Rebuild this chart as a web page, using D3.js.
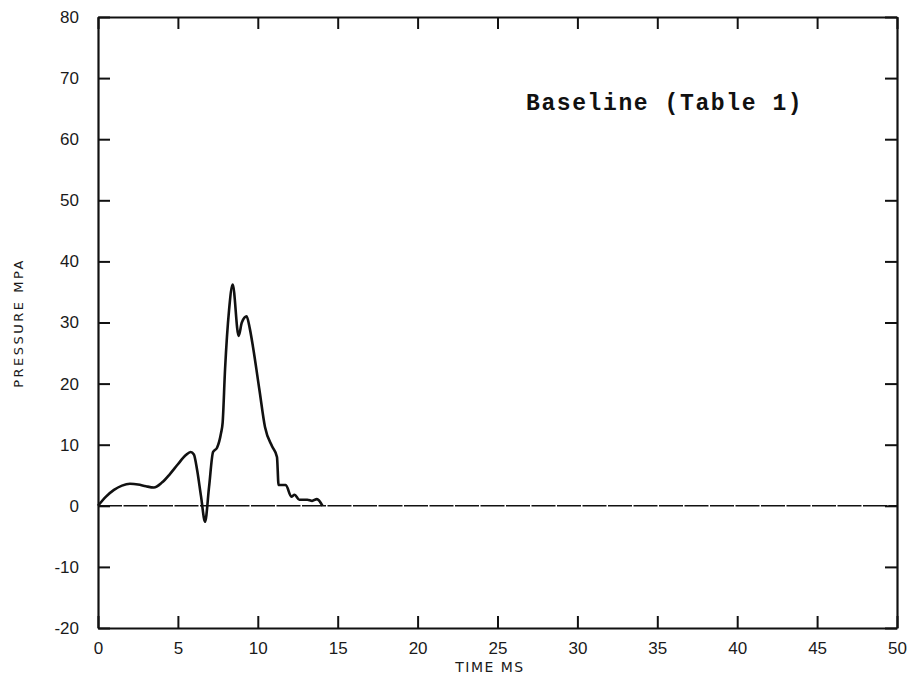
<!DOCTYPE html>
<html>
<head>
<meta charset="utf-8">
<script src="https://cdn.jsdelivr.net/npm/d3@7"></script>
<style>
  body { margin: 0; background: #fff; }
  svg { display: block; }
  .tick-label { font-family: "Liberation Sans", sans-serif; font-size: 17px; fill: #1a1a1a; }
</style>
</head>
<body>
<div id="chart"></div>
<script>
// Data
const timeMs = [0, 0.5, 1, 1.5, 2, 2.5, 3, 3.5, 4, 4.5, 5, 5.5, 5.8, 6.0, 6.2, 6.45, 6.7, 6.95, 7.2, 7.45, 7.7, 7.8, 7.95, 8.2, 8.43, 8.8, 9.0, 9.3, 9.5, 9.7, 10.1, 10.45, 10.9, 11.2, 11.3, 11.75, 12.1, 12.3, 12.6, 13.1, 13.4, 13.7, 14.05];
const pressureMpa = [0, 1.5, 2.6, 3.3, 3.6, 3.5, 3.2, 3.0, 3.8, 5.2, 6.8, 8.3, 8.8, 8.4, 5.9, 1.5, -2.6, 3.1, 8.8, 9.5, 11.9, 13.6, 22.3, 32, 36.2, 27.8, 30, 31, 29, 26, 19, 12.9, 9.7, 8, 3.4, 3.4, 1.5, 1.8, 1.0, 1.0, 0.8, 1.1, 0];
const xTicks = [0, 5, 10, 15, 20, 25, 30, 35, 40, 45, 50];
const yTicks = [-20, -10, 0, 10, 20, 30, 40, 50, 60, 70, 80];
const yTickText = ["-20", "-10", "0", "10", "20", "30", "40", "50", "60", "70", "80"];

const w = 915;
const h = 680;
const padLeft = 98, padRight = 897, padTop = 17, padBottom = 628;

const xScale = d3.scaleLinear().domain([0, 50]).range([padLeft, padRight]);
const yScale = d3.scaleLinear().domain([-20, 80]).range([padBottom, padTop]);

const svg = d3.select("#chart")
  .append("svg")
  .attr("width", w)
  .attr("height", h);

// zero reference line
svg.append("line")
  .attr("x1", xScale(0)).attr("x2", xScale(50))
  .attr("y1", yScale(0)).attr("y2", yScale(0))
  .attr("stroke", "#111")
  .attr("stroke-width", 1.6)
  .attr("stroke-dasharray", "24,1.5");

// Axes: inner ticks on all four sides
const tickLen = 12;
const axisStyle = g => {
  g.select(".domain").attr("stroke", "#111").attr("stroke-width", 2.2).attr("fill", "none");
  g.selectAll(".tick line").attr("stroke", "#111").attr("stroke-width", 2);
};

const xAxis = d3.axisBottom(xScale).tickValues(xTicks).tickSizeInner(-tickLen).tickSizeOuter(0).tickPadding(11).tickFormat(d3.format("d"));
const yAxis = d3.axisLeft(yScale).tickValues(yTicks).tickSizeInner(-tickLen).tickSizeOuter(0).tickPadding(19).tickFormat((d, i) => yTickText[i]);

svg.append("g")
  .attr("transform", "translate(0," + padBottom + ")")
  .call(xAxis)
  .call(axisStyle)
  .call(g => g.selectAll("text").attr("class", "tick-label").attr("font-size", null).attr("font-family", null).attr("dy", "0.9em"));

svg.append("g")
  .attr("transform", "translate(" + padLeft + ",0)")
  .call(yAxis)
  .call(axisStyle)
  .call(g => g.selectAll("text").attr("class", "tick-label").attr("font-size", null).attr("font-family", null));

svg.append("g")
  .attr("transform", "translate(0," + padTop + ")")
  .call(d3.axisTop(xScale).tickValues(xTicks).tickSizeInner(-tickLen).tickSizeOuter(0).tickFormat(""))
  .call(axisStyle);

svg.append("g")
  .attr("transform", "translate(" + padRight + ",0)")
  .call(d3.axisRight(yScale).tickValues(yTicks).tickSizeInner(-tickLen).tickSizeOuter(0).tickFormat(""))
  .call(axisStyle);

// Trace
const pts = timeMs.map((t, i) => [t, pressureMpa[i]]);
const line = d3.line()
  .x(d => xScale(d[0]))
  .y(d => yScale(d[1]))
  .curve(d3.curveMonotoneX);

svg.append("path")
  .datum(pts)
  .attr("d", line)
  .attr("fill", "none")
  .attr("stroke", "#111")
  .attr("stroke-width", 2.6)
  .attr("stroke-linejoin", "round");

// Axis titles
svg.append("text")
  .attr("x", 490)
  .attr("y", 672)
  .attr("text-anchor", "middle")
  .style("font-family", "'DejaVu Sans', sans-serif")
  .style("font-size", "14px")
  .style("letter-spacing", "1.5px")
  .style("fill", "#1a1a1a")
  .text("TIME MS");

svg.append("text")
  .attr("transform", "translate(23,323) rotate(-90)")
  .attr("text-anchor", "middle")
  .style("font-family", "'DejaVu Sans', sans-serif")
  .style("font-size", "13px")
  .style("letter-spacing", "2.5px")
  .style("fill", "#1a1a1a")
  .text("PRESSURE MPA");

// Annotation
svg.append("text")
  .attr("x", 526)
  .attr("y", 110)
  .style("font-family", "'Liberation Mono', monospace")
  .style("font-size", "23px")
  .style("font-weight", "bold")
  .style("letter-spacing", "1.6px")
  .style("fill", "#111")
  .text("Baseline (Table 1)");
</script>
</body>
</html>
